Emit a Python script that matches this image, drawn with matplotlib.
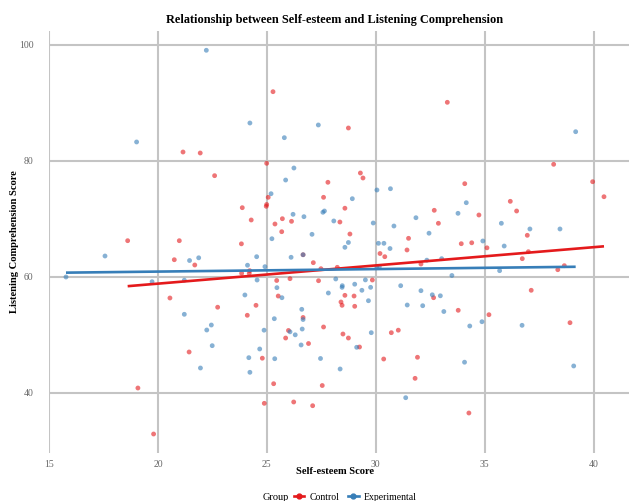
import numpy as np
import matplotlib
matplotlib.use("Agg")
import matplotlib.pyplot as plt
from matplotlib.lines import Line2D

plt.rcParams['font.family'] = ['Liberation Serif', 'DejaVu Serif']

# Control group (Self-esteem, Listening Comprehension)
control_x = [25.28, 21.15, 21.94, 24.99, 22.60, 25.06, 24.99, 24.97, 23.87, 25.71,
             26.13, 24.28, 25.37, 25.68, 18.61, 20.98, 23.83, 21.69, 20.75, 26.66,
             27.13, 27.48, 23.84, 24.19, 24.21, 25.45, 26.06, 27.37, 25.52, 20.55,
             22.74, 24.50, 24.10, 26.66, 25.99, 25.86, 26.91, 21.43, 24.79, 19.08,
             25.31, 24.88, 26.23, 27.10, 19.80, 27.60, 27.54, 28.74, 33.28, 38.16,
             39.95, 40.47, 29.29, 29.41, 27.80, 27.60, 28.58, 34.08, 32.68, 34.73,
             28.35, 32.87, 28.81, 31.50, 31.43, 30.19, 30.41, 33.92, 34.40, 32.07,
             28.23, 35.10, 36.17, 36.46, 36.95, 37.00, 36.72, 38.35, 38.65, 29.84,
             28.40, 28.45, 28.58, 29.00, 29.03, 32.65, 33.78, 35.19, 37.13, 38.91,
             28.49, 28.74, 30.71, 31.03, 29.25, 30.36, 31.91, 31.80, 34.27]
control_y = [91.95, 81.55, 81.38, 79.60, 77.47, 73.74, 72.50, 72.19, 71.95, 70.05,
             69.60, 69.83, 69.14, 67.81, 66.26, 66.26, 65.72, 62.07, 62.98, 63.84,
             62.47, 61.43, 60.64, 60.64, 61.09, 59.40, 59.71, 59.36, 56.72, 56.38,
             54.79, 55.12, 53.40, 53.02, 50.78, 49.48, 48.53, 47.07, 46.00, 40.86,
             41.60, 38.22, 38.45, 37.81, 32.93, 51.38, 41.29, 85.69, 90.12, 79.43,
             76.43, 73.84, 77.93, 77.07, 76.33, 73.74, 71.86, 76.09, 71.50, 70.69,
             69.48, 69.26, 67.41, 66.67, 64.66, 64.05, 63.50, 65.74, 65.90, 62.24,
             61.67, 65.03, 73.05, 71.38, 67.19, 64.36, 63.16, 61.26, 61.95, 59.48,
             55.69, 55.12, 56.84, 56.72, 54.95, 56.43, 54.26, 53.50, 57.71, 52.12,
             50.17, 49.48, 50.40, 50.83, 47.93, 45.86, 46.16, 42.53, 36.55]

# Experimental group
exp_x = [22.22, 24.22, 27.36, 25.80, 19.02, 26.24, 25.86, 25.19, 26.20, 26.70,
         27.07, 25.23, 27.64, 27.57, 17.57, 21.45, 21.87, 24.53, 26.11, 26.66,
         24.11, 24.91, 15.78, 19.73, 21.21, 24.55, 25.46, 25.69, 27.82, 23.99,
         21.21, 25.34, 26.60, 26.66, 22.45, 22.24, 24.87, 26.62, 26.06, 26.30,
         26.57, 22.49, 24.67, 24.17, 25.36, 27.46, 21.95, 24.22, 39.17, 30.05,
         30.67, 28.92, 34.15, 33.77, 28.07, 29.88, 31.84, 30.83, 32.44, 28.74,
         28.58, 30.12, 30.37, 30.65, 32.34, 33.02, 34.91, 35.89, 33.49, 35.68,
         35.76, 37.07, 38.45, 30.04, 30.16, 28.16, 29.52, 28.46, 28.45, 29.03,
         29.36, 29.76, 29.66, 31.14, 32.07, 32.59, 32.96, 31.44, 32.15, 33.12,
         34.31, 34.87, 36.71, 29.79, 29.12, 28.36, 34.07, 39.08, 31.37]
exp_y = [99.09, 86.55, 86.21, 84.02, 83.28, 78.79, 76.72, 74.36, 70.81, 70.40,
         67.36, 66.60, 71.38, 71.16, 63.62, 62.84, 63.31, 63.50, 63.40, 63.84,
         62.03, 61.78, 60.00, 59.19, 59.45, 59.48, 58.16, 56.43, 57.24, 56.90,
         53.57, 52.81, 54.43, 52.67, 51.72, 50.86, 50.83, 51.03, 50.55, 50.03,
         48.28, 48.16, 47.59, 46.09, 45.91, 45.95, 44.31, 43.57, 85.05, 75.00,
         75.22, 73.50, 72.81, 70.98, 69.66, 69.31, 70.22, 68.79, 67.55, 65.95,
         65.12, 65.81, 65.81, 64.91, 62.90, 63.16, 66.21, 65.34, 60.26, 61.09,
         69.26, 68.28, 68.28, 61.78, 61.78, 59.66, 59.50, 58.50, 58.22, 58.76,
         57.71, 58.22, 55.91, 58.50, 57.64, 56.93, 56.76, 55.17, 55.05, 54.05,
         51.55, 52.29, 51.67, 50.40, 47.88, 44.14, 45.31, 44.66, 39.19]

groups = ["Control", "Experimental"]
colors = {"Control": "#E41A1C", "Experimental": "#377EB8"}
x_ticks = [15, 20, 25, 30, 35, 40]
y_ticks = [40, 60, 80, 100]

fig = plt.figure(figsize=(6.29, 5.01), dpi=100)
ax = fig.add_axes([49/629, 1 - 453/501, 580/629, (453 - 31)/501])

data = {"Control": (control_x, control_y), "Experimental": (exp_x, exp_y)}
for g in groups:
    xs, ys = np.array(data[g][0]), np.array(data[g][1])
    ax.scatter(xs, ys, s=12, color=colors[g], alpha=0.6, edgecolors='none', zorder=3)
for g in groups:
    xs, ys = np.array(data[g][0]), np.array(data[g][1])
    b, a = np.polyfit(xs, ys, 1)
    xl = np.array([xs.min(), xs.max()])
    ax.plot(xl, a + b * xl, color=colors[g], lw=1.9, zorder=4, solid_capstyle='butt')

ax.set_xlim(15, 15 + 580/21.79)
ax.set_ylim(100 - (453 - 45)/5.8, 100 + (45 - 31)/5.8)
ax.set_xticks(x_ticks)
ax.set_yticks(y_ticks)
ax.grid(True, color='#C4C4C4', lw=1.5, zorder=0)
ax.set_axisbelow(True)
for s in ax.spines.values():
    s.set_visible(False)
ax.tick_params(axis='y', length=0, labelsize=7, labelcolor='#666666', pad=11)
ax.tick_params(axis='x', length=0, labelsize=7, labelcolor='#666666', pad=5)
ax.set_facecolor('white')

ax.set_xlabel("Self-esteem Score", fontsize=7.6, fontweight='bold')
ax.set_ylabel("Listening Comprehension Score", fontsize=7.6, fontweight='bold')
ax.xaxis.set_label_coords((335 - 49)/580, (453 - 471)/422)
ax.yaxis.set_label_coords((15 - 49)/580, 0.5)
ax.xaxis.label.set_va('center')
ax.yaxis.label.set_va('center')
fig.text(335/629, 1 - 20/501, "Relationship between Self-esteem and Listening Comprehension",
         ha='center', va='center', fontsize=8.8, fontweight='bold')

handles = [Line2D([0], [0], color=colors[g], lw=1.9, marker='o', markersize=3.5) for g in groups]
fig.text(276/629, 1 - 497/501, "Group", ha='center', va='center', fontsize=7.5)
fig.legend(handles, groups, loc='center', bbox_to_anchor=(355/629, 1 - 497/501),
           ncol=2, frameon=False, fontsize=7, handlelength=1.1, columnspacing=0.9,
           handletextpad=0.5, borderpad=0)

fig.savefig("out.png", dpi=100, facecolor='white')
